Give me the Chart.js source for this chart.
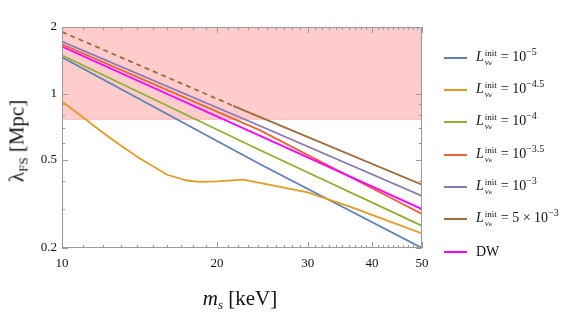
<!DOCTYPE html>
<html>
<head>
<meta charset="utf-8">
<script src="https://cdn.jsdelivr.net/npm/chart.js@4.4.1/dist/chart.umd.min.js"></script>
<style>
  body { margin: 0; background: #fff; }
  #wrap { position: relative; width: 581px; height: 314px; font-family: "Liberation Serif", serif; color: #111; }
  canvas { position: absolute; left: 0; top: 0; }
  .ytitle { position: absolute; left: 17px; top: 141px; font-size: 21px; white-space: nowrap;
            transform: translate(-50%, -50%) rotate(-90deg); }
  .xtitle { position: absolute; left: 240px; top: 298px; font-size: 21px; white-space: nowrap;
            transform: translate(-50%, -50%); }
  .ytitle sub, .xtitle sub { font-size: 13px; vertical-align: -4px; line-height: 0; }
  #legend { position: absolute; left: 444px; top: 0; }
  .row { position: absolute; left: 0; height: 24px; display: flex; align-items: center; white-space: nowrap; font-size: 14px; }
  .sw { width: 23px; height: 2px; margin-right: 9px; }
  .ss { display: inline-flex; flex-direction: column; font-size: 9px; line-height: 9px; vertical-align: 5px; margin: 0 4px 0 1px; }
  .ss small { font-size: 7px; }
  .row sup { font-size: 10px; vertical-align: 6px; line-height: 0; }
</style>
</head>
<body>
<div id="wrap">
  <canvas id="chart" width="581" height="314"></canvas>
  <div class="ytitle">λ<sub>FS</sub> [Mpc]</div>
  <div class="xtitle"><i>m</i><sub><i>s</i></sub> [keV]</div>
  <div id="legend"></div>
</div>
<script>
// --- Data ---
const massStraight = [10, 24.2, 50];
const lamL5 = [1.46, 0.48, 0.2];
const lamL4 = [1.49, 0.555, 0.252];
const lamL35 = [1.67, 0.683, 0.285];
const lamL3 = [1.72, 0.715, 0.344];
const lamDW = [1.63, 0.645, 0.30];

const massL45 = [10, 10.84, 11.85, 12.96, 14.17, 15.97, 17.47, 18.53, 20, 22.5, 30, 36.2, 50];
const lamL45 = [0.92, 0.80, 0.68, 0.585, 0.508, 0.43, 0.404, 0.398, 0.40, 0.408, 0.357, 0.308, 0.233];

const massL5e3Dashed = [10, 21.5];
const lamL5e3Dashed = [1.90, 0.88];
const massL5e3 = [21.5, 50];
const lamL5e3 = [0.88, 0.387];

const excludedBelow = 0.764;   // lower edge of shaded band
const excludedTop = 2;

const xMajor = [10, 20, 30, 40, 50];
const xMinor = [];
for (let m = 11; m < 50; m++) if (m % 10 !== 0) xMinor.push(m);
const yMajor = [0.2, 0.5, 1, 2];
const yMinor = [0.3, 0.4, 0.6, 0.7, 0.8, 0.9];

const seriesNames = ['L5', 'L45', 'L4', 'L35', 'L3', 'L5e3', 'DW'];
const seriesColors = ['#5E81B5', '#E19C24', '#8FB032', '#EB6235', '#8778B3', '#9E6A3A', '#FF00FF'];
const lhs = '<i>L</i><span class="ss"><span>init</span><span><i>ν</i><small>e</small></span></span>= ';
const legendLabels = [
  lhs + '10<sup>−5</sup>',
  lhs + '10<sup>−4.5</sup>',
  lhs + '10<sup>−4</sup>',
  lhs + '10<sup>−3.5</sup>',
  lhs + '10<sup>−3</sup>',
  lhs + '5 × 10<sup>−3</sup>',
  'DW'
];
const legendRowY = [58, 90, 122, 155, 187, 219, 252];

// --- Helpers ---
const pts = (xs, ys) => xs.map((x, i) => ({ x, y: ys[i] }));

function lineSet(label, xs, ys, color, order, extra) {
  return Object.assign({
    label, data: pts(xs, ys), borderColor: color, backgroundColor: color,
    borderWidth: 1.8, pointRadius: 0, fill: false, tension: 0, order
  }, extra || {});
}

// --- Frame and inward ticks (Mathematica style) ---
const framePlugin = {
  id: 'frame',
  afterDatasetsDraw(chart) {
    const { ctx, chartArea: a, scales: { x, y } } = chart;
    ctx.save();
    ctx.strokeStyle = '#9a9a9a';
    ctx.lineWidth = 1;
    ctx.strokeRect(Math.round(a.left) + 0.5, Math.round(a.top) + 0.5,
                   Math.round(a.right - a.left) - 1, Math.round(a.bottom - a.top) - 1);
    ctx.beginPath();
    const xt = (v, len) => {
      const px = Math.round(x.getPixelForValue(v)) + 0.5;
      ctx.moveTo(px, a.bottom); ctx.lineTo(px, a.bottom - len);
      ctx.moveTo(px, a.top); ctx.lineTo(px, a.top + len);
    };
    const yt = (v, len) => {
      const py = Math.round(y.getPixelForValue(v)) + 0.5;
      ctx.moveTo(a.left, py); ctx.lineTo(a.left + len, py);
      ctx.moveTo(a.right, py); ctx.lineTo(a.right - len, py);
    };
    xMajor.forEach(v => xt(v, 6));
    xMinor.forEach(v => xt(v, 3));
    yMajor.forEach(v => yt(v, 6));
    yMinor.forEach(v => yt(v, 3));
    ctx.stroke();
    ctx.restore();
  }
};

const tickFont = { family: '"Liberation Serif", serif', size: 13 };

new Chart(document.getElementById('chart'), {
  type: 'line',
  data: {
    datasets: [
      {
        label: 'excluded', data: pts([10, 50], [excludedTop, excludedTop]),
        borderWidth: 0, pointRadius: 0, fill: { value: excludedBelow },
        backgroundColor: 'rgba(255,0,0,0.2)', order: 100
      },
      lineSet('edge', [10, 50], [excludedBelow, excludedBelow], 'rgba(255,90,90,0.35)', 99, { borderWidth: 1 }),
      lineSet(seriesNames[0], massStraight, lamL5, seriesColors[0], 10),
      lineSet(seriesNames[1], massL45, lamL45, seriesColors[1], 9),
      lineSet(seriesNames[2], massStraight, lamL4, seriesColors[2], 8),
      lineSet(seriesNames[3], massStraight, lamL35, seriesColors[3], 7),
      lineSet(seriesNames[4], massStraight, lamL3, seriesColors[4], 6),
      lineSet(seriesNames[5] + ' dashed', massL5e3Dashed, lamL5e3Dashed, seriesColors[5], 5, { borderDash: [5, 4] }),
      lineSet(seriesNames[5], massL5e3, lamL5e3, seriesColors[5], 5),
      lineSet(seriesNames[6], massStraight, lamDW, seriesColors[6], 4)
    ]
  },
  options: {
    responsive: false,
    animation: false,
    layout: { padding: { left: 0, top: 27, right: 159, bottom: 0 } },
    plugins: { legend: { display: false }, tooltip: { enabled: false } },
    scales: {
      x: {
        type: 'logarithmic', min: 10, max: 50,
        afterBuildTicks: s => { s.ticks = xMajor.map(v => ({ value: v })); },
        afterFit: s => { s.height = 66; },
        grid: { display: false, drawTicks: false },
        border: { display: false },
        ticks: { autoSkip: false, maxRotation: 0, padding: 8, color: '#111', font: tickFont, callback: v => String(v) }
      },
      y: {
        type: 'logarithmic', min: 0.2, max: 2,
        afterBuildTicks: s => { s.ticks = yMajor.map(v => ({ value: v })); },
        afterFit: s => { s.width = 62; },
        grid: { display: false, drawTicks: false },
        border: { display: false },
        ticks: { autoSkip: false, padding: 5, color: '#111', font: tickFont, callback: v => String(v) }
      }
    }
  },
  plugins: [framePlugin]
});

// --- HTML legend (needs sub/superscripts) ---
const legendEl = document.getElementById('legend');
legendLabels.forEach((html, i) => {
  const row = document.createElement('div');
  row.className = 'row';
  row.style.top = (legendRowY[i] - 12) + 'px';
  row.innerHTML = `<span class="sw" style="background:${seriesColors[i]}"></span><span>${html}</span>`;
  legendEl.appendChild(row);
});
</script>
</body>
</html>
